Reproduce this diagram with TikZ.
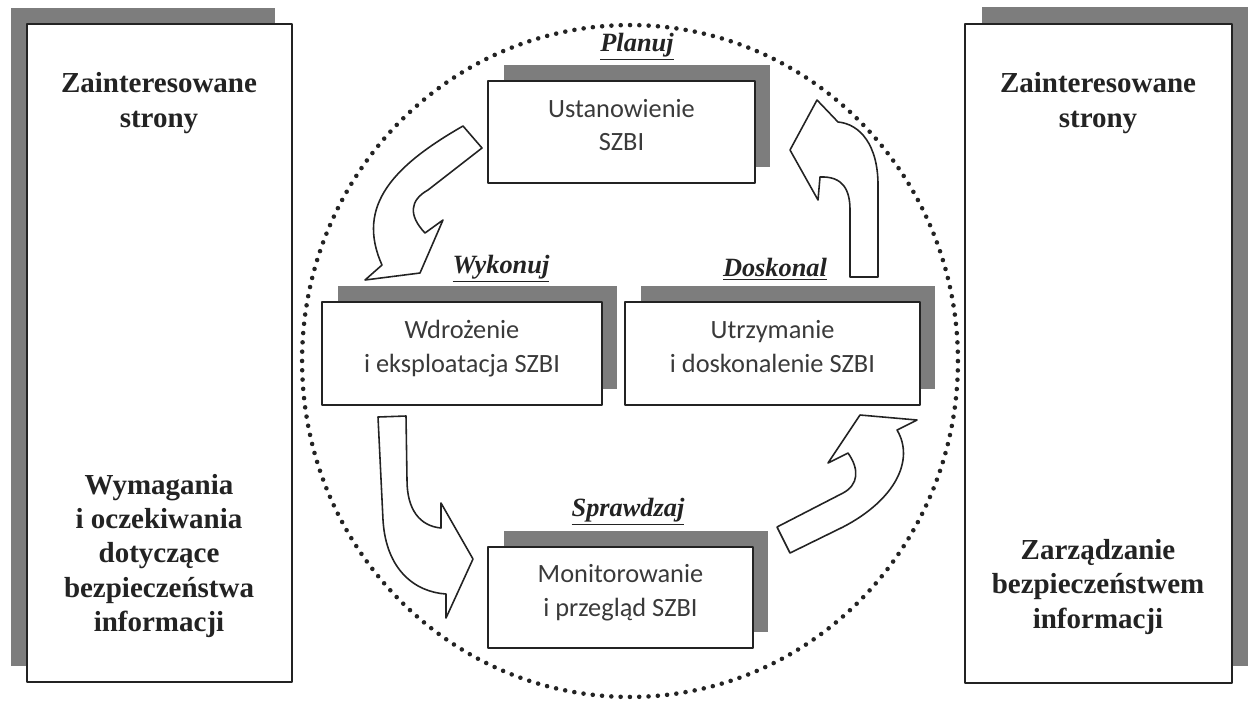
\documentclass[tikz,border=0pt]{standalone}
\usepackage{fontspec}
\setmainfont{Liberation Serif}
\newfontfamily\boxfont{Carlito}
\usetikzlibrary{shadows}
\definecolor{shadowgray}{RGB}{125,125,125}
\definecolor{edgegray}{RGB}{35,35,35}
\definecolor{txtgray}{RGB}{58,58,58}

\begin{document}
\begin{tikzpicture}[x=0.02cm, y=-0.02cm, line join=round,
    panel/.style={draw=edgegray, line width=1.5pt, fill=white, inner sep=0pt},
    paneltext/.style={align=center, font=\fontsize{16.5}{19.5}\selectfont\bfseries, text=edgegray},
    stepbox/.style={draw=edgegray, line width=1.5pt, fill=white, inner sep=0pt, align=center,
        font=\boxfont\fontsize{15}{19}\selectfont, text=txtgray, text depth=8pt,
        drop shadow={shadow xshift=0.31cm, shadow yshift=0.32cm, fill=shadowgray, opacity=1}},
    steplabel/.style={font=\fontsize{15}{17}\selectfont\bfseries\itshape, text=edgegray},
    blockarrow/.style={draw=edgegray, line width=0.9pt, fill=white}]
    \useasboundingbox (0,0) rectangle (1253,704);

    % Side panels
    \node [panel, minimum width=5.3cm, minimum height=13.16cm,
        drop shadow={shadow xshift=-0.33cm, shadow yshift=0.32cm, fill=shadowgray, opacity=1}]
        (left) at (159.5,353) {};
    \node [panel, minimum width=5.34cm, minimum height=13.18cm,
        drop shadow={shadow xshift=0.33cm, shadow yshift=0.34cm, fill=shadowgray, opacity=1}]
        (right) at (1098.5,353.5) {};
    \node [paneltext] (stakeL) at (159,103) {Zainteresowane\\strony};
    \node [paneltext] (needs) at (159,556) {Wymagania\\i oczekiwania\\dotyczące\\bezpieczeństwa\\informacji};
    \node [paneltext] (stakeR) at (1098,103) {Zainteresowane\\strony};
    \node [paneltext] (mgmt) at (1098,587) {Zarządzanie\\bezpieczeństwem\\informacji};

    % Cycle
    \draw [edgegray, line width=2.6pt, line cap=round, dash pattern=on 0pt off 5.3pt] (630,361) ellipse [x radius=6.56cm, y radius=6.72cm];

    \node [stepbox, minimum width=5.34cm, minimum height=2.04cm] (plan) at (621.5,132) {Ustanowienie\\SZBI};
    \node [stepbox, minimum width=5.6cm, minimum height=2.06cm] (do) at (462,353.5) {Wdrożenie\\i eksploatacja SZBI};
    \node [stepbox, minimum width=5.9cm, minimum height=2.06cm] (act) at (772.5,353.5) {Utrzymanie\\i doskonalenie SZBI};
    \node [stepbox, minimum width=5.3cm, minimum height=2.02cm] (check) at (620.5,597.5) {Monitorowanie\\i przegląd SZBI};

    % Step labels
    \node [steplabel] (planlbl) at (637,47) {\underline{Planuj}};
    \node [steplabel] (dolbl) at (501,269) {\underline{Wykonuj}};
    \node [steplabel] (actlbl) at (775,269) {\underline{Doskonal}};
    \node [steplabel] (checklbl) at (628,512) {\underline{Sprawdzaj}};

    % Block arrows
    \draw [blockarrow] (463,126) .. controls (395,165) and (355,205) .. (382,265) -- (365,280) -- (420,273)
        -- (443,220) -- (425,233) .. controls (408,215) and (410,200) .. (428,190) -- (482,148) -- cycle;
    \draw [blockarrow] (378,417) -- (383,520) .. controls (386,570) and (415,592) .. (446,594) -- (446,618)
        -- (473,559) -- (441,503) -- (441,528) .. controls (420,526) and (407,510) .. (407,480) -- (406,416) -- cycle;
    \draw [blockarrow] (790,553) -- (843,527) .. controls (895,500) and (915,460) .. (897,430) -- (917,420)
        -- (860,415) -- (828,463) -- (848,453) .. controls (860,470) and (858,485) .. (843,493) -- (777,527) -- cycle;
    \draw [blockarrow] (878,277) -- (878,185) .. controls (878,145) and (860,124) .. (838,122) -- (817,100)
        -- (790,150) -- (818,200) -- (820,177) .. controls (843,176) and (850,190) .. (850,210) -- (850,277) -- cycle;
\end{tikzpicture}
\end{document}
